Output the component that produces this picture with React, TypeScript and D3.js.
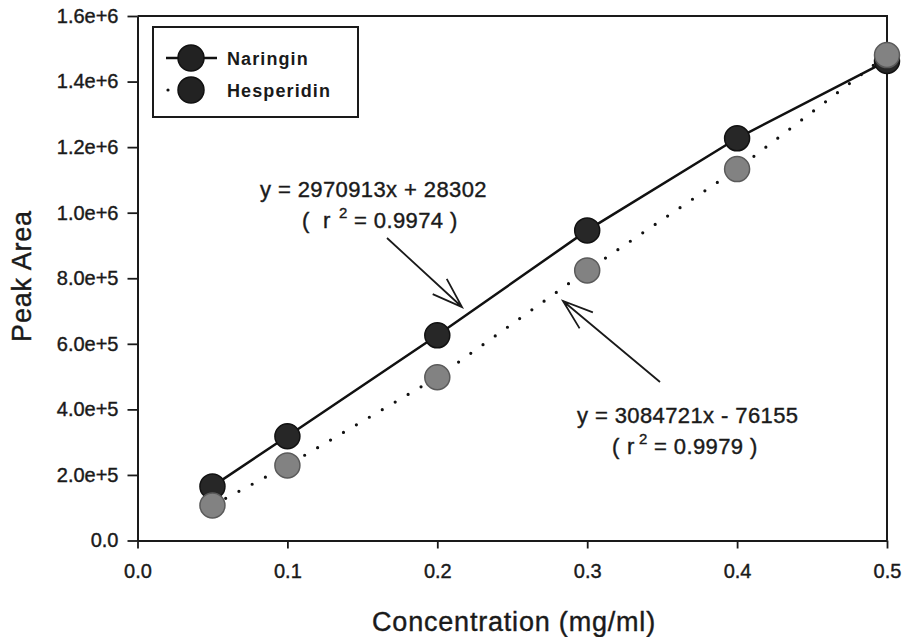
import React, { useEffect, useRef } from 'react';
import * as d3 from 'd3';

// concentration (mg/ml) and measured peak areas
const concentrations = [0.05, 0.1, 0.2, 0.3, 0.4, 0.5];
const naringinArea = [165000, 318000, 626000, 946000, 1227000, 1463000];
const hesperidinArea = [107000, 229000, 498000, 824000, 1133000, 1481000];

const xTicks = [0, 0.1, 0.2, 0.3, 0.4, 0.5];
const yTicks = [0, 2e5, 4e5, 6e5, 8e5, 1e6, 1.2e6, 1.4e6, 1.6e6];

const seriesNames = ['Naringin', 'Hesperidin'];
const fitEquations = ['y = 2970913x + 28302', 'y = 3084721x - 76155'];
const fitR2 = ['0.9974', '0.9979'];

const FONT = '"Liberation Sans", Arial, Helvetica, sans-serif';
const INK = '#1a1a1a';

const App = () => {
    const ref = useRef<SVGSVGElement | null>(null);

    useEffect(() => {
        const width = 906;
        const height = 637;
        const svg = d3.select(ref.current);
        svg.selectAll('*').remove();
        svg.attr('width', width).attr('height', height);

        // plot area
        const left = 137.5, right = 887, top = 16, bottom = 540.5;

        const xScale = d3.scaleLinear().domain([0, 0.5]).range([left, right]);
        const yScale = d3.scaleLinear().domain([0, 1.6e6]).range([bottom, top]);

        // frame (top + right)
        svg.append('path')
            .attr('d', `M${left},${top}H${right}V${bottom}`)
            .attr('fill', 'none')
            .attr('stroke', INK)
            .attr('stroke-width', 2);

        // axes
        const yAxis = d3.axisLeft(yScale)
            .tickValues(yTicks)
            .tickSize(10)
            .tickSizeOuter(0)
            .tickPadding(9)
            .tickFormat(d => (+d === 0 ? '0.0' : d3.format('.1e')(+d)));
        const xAxis = d3.axisBottom(xScale)
            .tickValues(xTicks)
            .tickSize(8)
            .tickSizeOuter(0)
            .tickPadding(16)
            .tickFormat(d3.format('.1f') as any);

        const gY = svg.append('g').attr('transform', `translate(${left},0)`).call(yAxis);
        const gX = svg.append('g').attr('transform', `translate(0,${bottom})`).call(xAxis);

        [gX, gY].forEach(g => {
            g.attr('font-size', null).attr('font-family', null);
            g.select('.domain').attr('stroke', INK).attr('stroke-width', 2);
            g.selectAll('.tick line').attr('stroke', INK).attr('stroke-width', 1.8);
            g.selectAll('.tick text')
                .attr('font-family', FONT)
                .attr('font-size', 20)
                .attr('fill', INK)
                .attr('stroke', INK)
                .attr('stroke-width', 0.4);
        });
        gX.selectAll('.tick text').attr('dy', '0.66em');

        // axis titles
        svg.append('text')
            .attr('transform', 'translate(31,276) rotate(-90)')
            .attr('text-anchor', 'middle')
            .attr('font-family', FONT)
            .attr('font-size', 27)
            .attr('letter-spacing', 0.8)
            .attr('fill', INK)
            .attr('stroke', INK)
            .attr('stroke-width', 0.4)
            .text('Peak Area');
        svg.append('text')
            .attr('x', 514)
            .attr('y', 631)
            .attr('text-anchor', 'middle')
            .attr('font-family', FONT)
            .attr('font-size', 27)
            .attr('letter-spacing', 0.8)
            .attr('fill', INK)
            .attr('stroke', INK)
            .attr('stroke-width', 0.4)
            .text('Concentration (mg/ml)');

        const line = d3.line<number>()
            .x((d, i) => xScale(concentrations[i]))
            .y(d => yScale(d));

        // Naringin solid line
        svg.append('path')
            .attr('d', line(naringinArea))
            .attr('fill', 'none')
            .attr('stroke', '#111')
            .attr('stroke-width', 2.5);

        // Hesperidin dotted line
        svg.append('path')
            .attr('d', line(hesperidinArea))
            .attr('fill', 'none')
            .attr('stroke', '#111')
            .attr('stroke-width', 3.2)
            .attr('stroke-linecap', 'round')
            .attr('stroke-dasharray', '0 15');

        svg.append('g').selectAll('circle')
            .data(naringinArea)
            .enter()
            .append('circle')
            .attr('cx', (d, i) => xScale(concentrations[i]))
            .attr('cy', d => yScale(d))
            .attr('r', 12.5)
            .attr('fill', '#272727')
            .attr('stroke', '#111')
            .attr('stroke-width', 1.5);

        svg.append('g').selectAll('circle')
            .data(hesperidinArea)
            .enter()
            .append('circle')
            .attr('cx', (d, i) => xScale(concentrations[i]))
            .attr('cy', d => yScale(d))
            .attr('r', 12.5)
            .attr('fill', '#828282')
            .attr('stroke', '#5a5a5a')
            .attr('stroke-width', 1.5);

        // legend
        const legend = svg.append('g');
        legend.append('rect')
            .attr('x', 153).attr('y', 27)
            .attr('width', 205).attr('height', 90)
            .attr('fill', '#fff')
            .attr('stroke', INK)
            .attr('stroke-width', 2);
        const rows = [58, 90];
        legend.append('line')
            .attr('x1', 166).attr('x2', 217)
            .attr('y1', rows[0]).attr('y2', rows[0])
            .attr('stroke', '#111').attr('stroke-width', 2.5);
        legend.append('line')
            .attr('x1', 168).attr('x2', 216)
            .attr('y1', rows[1]).attr('y2', rows[1])
            .attr('stroke', '#111').attr('stroke-width', 3.2)
            .attr('stroke-linecap', 'round')
            .attr('stroke-dasharray', '0 48');
        rows.forEach((y, i) => {
            legend.append('circle')
                .attr('cx', 191).attr('cy', y).attr('r', 13)
                .attr('fill', '#222').attr('stroke', '#111').attr('stroke-width', 1.5);
            legend.append('text')
                .attr('x', 227).attr('y', y + 6.5)
                .attr('font-family', FONT)
                .attr('font-size', 18)
                .attr('font-weight', 'bold')
                .attr('letter-spacing', 1.1)
                .attr('fill', INK)
                .text(seriesNames[i]);
        });

        // regression annotations
        const annotate = (x: number, y: number, eq: string, r2: string, ox: number, gaps: number[]) => {
            const g = svg.append('g')
                .attr('font-family', FONT)
                .attr('fill', INK)
                .attr('stroke', INK)
                .attr('stroke-width', 0.4);
            g.append('text')
                .attr('x', x).attr('y', y)
                .attr('font-size', 22)
                .attr('letter-spacing', 0.4)
                .text(eq);
            const y2 = y + 31;
            g.append('text').attr('x', ox).attr('y', y2).attr('font-size', 22).text('(');
            g.append('text').attr('x', ox + gaps[0]).attr('y', y2).attr('font-size', 22).text('r');
            g.append('text').attr('x', ox + gaps[1]).attr('y', y2 - 10).attr('font-size', 15).text('2');
            g.append('text').attr('x', ox + gaps[2]).attr('y', y2).attr('font-size', 22)
                .attr('letter-spacing', 0.4)
                .text(`= ${r2} )`);
        };
        annotate(260, 197, fitEquations[0], fitR2[0], 302, [21, 37, 52]);
        annotate(577, 423, fitEquations[1], fitR2[1], 612, [15, 27, 42]);

        const arrow = (x1: number, y1: number, x2: number, y2: number) => {
            const ang = Math.atan2(y2 - y1, x2 - x1);
            const len = 32, spread = 0.33;
            const pts = [ang + Math.PI - spread, ang + Math.PI + spread]
                .map(a => [x2 + len * Math.cos(a), y2 + len * Math.sin(a)]);
            svg.append('path')
                .attr('d', `M${x1},${y1}L${x2},${y2}M${pts[0][0]},${pts[0][1]}L${x2},${y2}L${pts[1][0]},${pts[1][1]}`)
                .attr('fill', 'none')
                .attr('stroke', INK)
                .attr('stroke-width', 1.8);
        };
        arrow(387, 238, 462, 307);
        arrow(660, 382, 563, 301);
    }, []);

    return (
        <div style={{ position: 'absolute', left: 0, top: 0 }}>
            <svg ref={ref} style={{ display: 'block', background: '#fff' }}></svg>
        </div>
    );
};

export default App;
